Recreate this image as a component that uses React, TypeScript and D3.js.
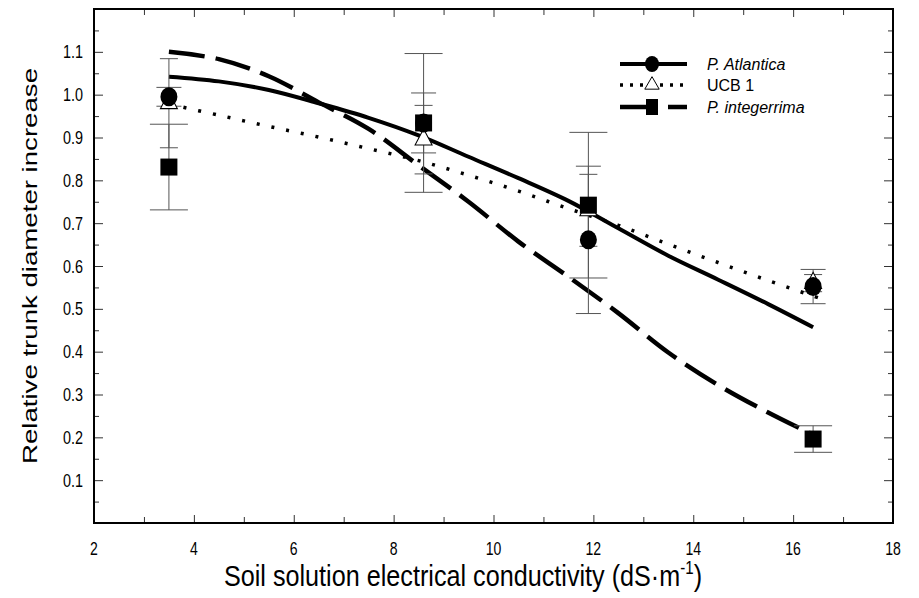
import React, { useEffect, useRef } from 'react';
import * as d3 from 'd3';

// measured EC levels (dS/m) and relative trunk diameter increase
const ecLevels = [3.5, 8.6, 11.9, 16.4];

const atlanticaMean = [0.995, 0.934, 0.661, 0.552];
const atlanticaErr = [0.022, 0.07, 0.172, 0.04];
const ucbMean = [0.98, 0.895, 0.73, 0.56];
const ucbErr = [0.104, 0.08, 0.084, 0.02];
const integerrimaMean = [0.831, 0.934, 0.742, 0.196];
const integerrimaErr = [0.1, 0.162, 0.17, 0.031];

// fitted curves
const atlanticaFitX = [3.5, 4.5, 5.5, 6.5, 7.5, 8.5, 9.5, 10.5, 11.5, 12.5, 13.5, 14.5, 15.5, 16.4];
const atlanticaFitY = [1.042, 1.031, 1.011, 0.98, 0.946, 0.905, 0.855, 0.805, 0.752, 0.688, 0.624, 0.568, 0.511, 0.457];
const ucbFitX = [3.5, 4.5, 5.5, 6.5, 7.5, 8.5, 9.5, 10.5, 11.5, 12.5, 13.5, 14.5, 15.5, 16.55];
const ucbFitY = [0.978, 0.952, 0.926, 0.901, 0.874, 0.846, 0.812, 0.775, 0.734, 0.695, 0.651, 0.608, 0.566, 0.524];
const integerrimaFitX = [3.5, 4.5, 5.5, 6.5, 7.5, 8.5, 9.5, 10.5, 11.5, 12.5, 13.5, 14.5, 15.5, 16.4];
const integerrimaFitY = [1.1, 1.083, 1.043, 0.982, 0.92, 0.835, 0.75, 0.657, 0.575, 0.49, 0.398, 0.322, 0.258, 0.206];

const xMajorTicks = [2, 4, 6, 8, 10, 12, 14, 16, 18];
const xMinorTicks = [3, 5, 7, 9, 11, 13, 15, 17];
const yMajorTicks = [0.1, 0.2, 0.3, 0.4, 0.5, 0.6, 0.7, 0.8, 0.9, 1.0, 1.1];
const yMinorTicks = [0.05, 0.15, 0.25, 0.35, 0.45, 0.55, 0.65, 0.75, 0.85, 0.95, 1.05, 1.15];

const seriesNames = ['P. Atlantica', 'UCB 1', 'P. integerrima'];

const FONT = '"Liberation Sans", Arial, sans-serif';

function App() {
  const ref = useRef<SVGSVGElement>(null);

  useEffect(() => {
    const svg = d3.select(ref.current);
    svg.selectAll('*').remove();

    const left = 94, right = 893, top = 9, bottom = 523;
    const x = d3.scaleLinear().domain([2, 18]).range([left, right]);
    const y = d3.scaleLinear().domain([0, 1.2]).range([bottom, top]);

    const g = svg.append('g');

    // ticks (all pointing inward)
    const tickLine = (sel: any) => {
      sel.select('.domain').remove();
      sel.selectAll('.tick line').attr('stroke', '#333').attr('stroke-width', 1);
      sel.selectAll('text').remove();
    };
    g.append('g').attr('transform', `translate(0,${bottom})`)
      .call(d3.axisBottom(x).tickValues(xMajorTicks).tickSize(-8)).call(tickLine);
    g.append('g').attr('transform', `translate(0,${bottom})`)
      .call(d3.axisBottom(x).tickValues(xMinorTicks).tickSize(-6)).call(tickLine);
    g.append('g').attr('transform', `translate(0,${top})`)
      .call(d3.axisTop(x).tickValues(xMajorTicks).tickSize(-8)).call(tickLine);
    g.append('g').attr('transform', `translate(0,${top})`)
      .call(d3.axisTop(x).tickValues(xMinorTicks).tickSize(-6)).call(tickLine);
    g.append('g').attr('transform', `translate(${left},0)`)
      .call(d3.axisLeft(y).tickValues(yMajorTicks).tickSize(-9)).call(tickLine);
    g.append('g').attr('transform', `translate(${left},0)`)
      .call(d3.axisLeft(y).tickValues(yMinorTicks).tickSize(-5)).call(tickLine);
    g.append('g').attr('transform', `translate(${right},0)`)
      .call(d3.axisRight(y).tickValues(yMajorTicks).tickSize(-9)).call(tickLine);
    g.append('g').attr('transform', `translate(${right},0)`)
      .call(d3.axisRight(y).tickValues(yMinorTicks).tickSize(-5)).call(tickLine);

    g.append('rect')
      .attr('x', left).attr('y', top)
      .attr('width', right - left).attr('height', bottom - top)
      .attr('fill', 'none').attr('stroke', '#000').attr('stroke-width', 2);

    // tick labels (the original figure is stretched vertically, so glyphs look narrow)
    g.selectAll('.xlab').data(xMajorTicks).enter().append('text')
      .attr('transform', d => `translate(${x(d)},${bottom + 32}) scale(0.78,1)`)
      .attr('text-anchor', 'middle')
      .style('font', `18px ${FONT}`)
      .text(d => d);
    g.selectAll('.ylab').data(yMajorTicks).enter().append('text')
      .attr('transform', d => `translate(${left - 11},${y(d) + 6.5}) scale(0.8,1)`)
      .attr('text-anchor', 'end')
      .style('font', `18px ${FONT}`)
      .text(d => d3.format('.1f')(d));

    // axis titles
    const xt = g.append('text')
      .attr('transform', 'translate(463,586) scale(0.84,1)')
      .attr('text-anchor', 'middle')
      .style('font', `30px ${FONT}`);
    xt.append('tspan').text('Soil solution electrical conductivity (dS·m');
    xt.append('tspan').attr('dy', -12).style('font-size', '18px').text('-1');
    xt.append('tspan').attr('dy', 12).text(')');

    g.append('text')
      .attr('transform', `translate(37,${(top + bottom) / 2}) rotate(-90)`)
      .attr('text-anchor', 'middle')
      .attr('textLength', 396).attr('lengthAdjust', 'spacingAndGlyphs')
      .style('font', `21px ${FONT}`)
      .text('Relative trunk diameter increase');

    // fitted curves
    const line = d3.line<[number, number]>()
      .x(d => x(d[0])).y(d => y(d[1]))
      .curve(d3.curveCatmullRom);
    const curves = [
      { xs: atlanticaFitX, ys: atlanticaFitY, dash: null, w: 4 },
      { xs: ucbFitX, ys: ucbFitY, dash: '3,12', w: 3.5 },
      { xs: integerrimaFitX, ys: integerrimaFitY, dash: '36,11', w: 4.5 }
    ];
    curves.forEach(c => {
      g.append('path')
        .datum(c.xs.map((v, i) => [v, c.ys[i]] as [number, number]))
        .attr('d', line)
        .attr('fill', 'none').attr('stroke', '#000')
        .attr('stroke-width', c.w)
        .attr('stroke-dasharray', c.dash);
    });

    // error bars
    const bars = [
      { mean: ucbMean, err: ucbErr, cap: 18 },
      { mean: atlanticaMean, err: atlanticaErr, cap: 25 },
      { mean: integerrimaMean, err: integerrimaErr, cap: 38 }
    ];
    bars.forEach(b => {
      ecLevels.forEach((ec, i) => {
        const cx = x(ec);
        const y0 = y(b.mean[i] - b.err[i]), y1 = y(b.mean[i] + b.err[i]);
        const eb = g.append('g').attr('stroke', '#555').attr('stroke-width', 1);
        eb.append('line').attr('x1', cx).attr('x2', cx).attr('y1', y0).attr('y2', y1);
        eb.append('line').attr('x1', cx - b.cap / 2).attr('x2', cx + b.cap / 2).attr('y1', y0).attr('y2', y0);
        eb.append('line').attr('x1', cx - b.cap / 2).attr('x2', cx + b.cap / 2).attr('y1', y1).attr('y2', y1);
      });
    });

    // markers
    const tri = d3.symbol().type(d3.symbolTriangle).size(125);
    g.selectAll('.tri').data(ecLevels).enter().append('path')
      .attr('d', tri)
      .attr('transform', (d, i) => `translate(${x(d)},${y(ucbMean[i])}) scale(1,1.1)`)
      .attr('fill', '#fff').attr('stroke', '#000').attr('stroke-width', 1);
    g.selectAll('.circ').data(ecLevels).enter().append('ellipse')
      .attr('cx', d => x(d)).attr('cy', (d, i) => y(atlanticaMean[i]))
      .attr('rx', 8.5).attr('ry', 9.5).attr('fill', '#000');
    g.selectAll('.sq').data(ecLevels).enter().append('rect')
      .attr('x', d => x(d) - 8.5).attr('y', (d, i) => y(integerrimaMean[i]) - 8.5)
      .attr('width', 17).attr('height', 17).attr('fill', '#000');

    // legend
    const lg = g.append('g');
    const rowY = [64, 85, 107];
    const lx0 = 620, lx1 = 687, lsym = 652;
    lg.append('line').attr('x1', lx0).attr('x2', lx1).attr('y1', rowY[0]).attr('y2', rowY[0])
      .attr('stroke', '#000').attr('stroke-width', 4);
    lg.append('ellipse').attr('cx', lsym).attr('cy', rowY[0]).attr('rx', 7).attr('ry', 8).attr('fill', '#000');
    lg.append('line').attr('x1', lx0).attr('x2', lx1).attr('y1', rowY[1]).attr('y2', rowY[1])
      .attr('stroke', '#000').attr('stroke-width', 3.5).attr('stroke-dasharray', '3,7');
    lg.append('path')
      .attr('d', d3.symbol().type(d3.symbolTriangle).size(90))
      .attr('transform', `translate(${lsym},${rowY[1]})`)
      .attr('fill', '#fff').attr('stroke', '#000').attr('stroke-width', 1);
    lg.append('line').attr('x1', lx0).attr('x2', lx1).attr('y1', rowY[2]).attr('y2', rowY[2])
      .attr('stroke', '#000').attr('stroke-width', 4.5).attr('stroke-dasharray', '36,12,19');
    lg.append('rect').attr('x', lsym - 6).attr('y', rowY[2] - 8).attr('width', 12).attr('height', 16).attr('fill', '#000');
    lg.selectAll('.lt').data(seriesNames).enter().append('text')
      .attr('x', 707).attr('y', (d, i) => rowY[i] + 6)
      .style('font', `16px ${FONT}`)
      .style('font-style', (d, i) => (i === 1 ? 'normal' : 'italic'))
      .text(d => d);
  }, []);

  return (
    <svg ref={ref} width={919} height={598} style={{ position: 'absolute', left: 0, top: 0, background: '#fff' }} />
  );
}

export default App;
